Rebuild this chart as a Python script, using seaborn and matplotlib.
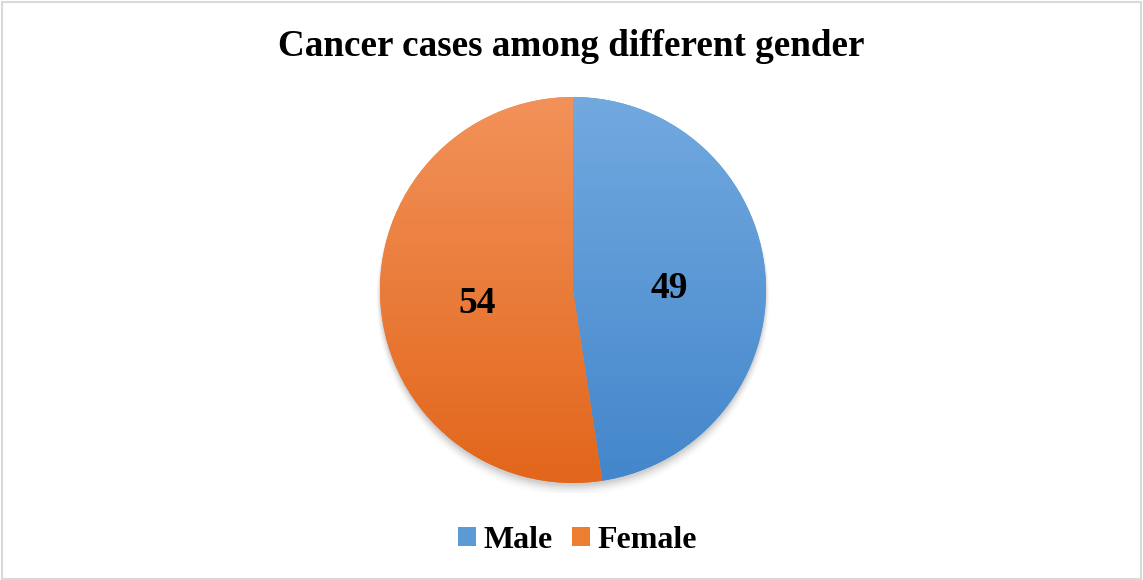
import numpy as np
import matplotlib
matplotlib.use("Agg")
import matplotlib.pyplot as plt
import seaborn as sns
from matplotlib.patches import Circle, Rectangle, Patch
from matplotlib.colors import LinearSegmentedColormap

# Data
genders = ["Male", "Female"]
cases = [49, 54]

# Top/bottom shades used for the vertical gradient of each slice
top_colors = ["#72A9DF", "#F2925A"]
bottom_colors = ["#4386CB", "#E2661B"]
legend_colors = ["#5B9BD5", "#ED7D31"]

sns.set_theme(style="white")
plt.rcParams["font.family"] = ["Liberation Serif", "DejaVu Serif"]
plt.rcParams["text.color"] = "black"

fig = plt.figure(figsize=(11.43, 5.8), dpi=100)
fig.patch.set_facecolor("white")

# Outer chart border
fig.add_artist(Rectangle((0.002, 0.002), 0.996, 0.994, transform=fig.transFigure,
                         fill=False, edgecolor="#D9D9D9", linewidth=1.5))

W, H = 1143, 580
cx, cy, r = 573, 290, 193
ax = fig.add_axes([(cx - r * 1.05) / W, (H - cy - r * 1.05) / H, 2.1 * r / W, 2.1 * r / H])

# Soft shadow beneath the pie
for i, a in enumerate(np.linspace(0.05, 0.012, 6)):
    ax.add_patch(Circle((0.0, -0.015 - 0.006 * i), 1.0 + 0.004 * i,
                        facecolor="black", edgecolor="none", alpha=a, zorder=0))

wedges, texts = ax.pie(
    cases,
    labels=[str(v) for v in cases],
    labeldistance=0.5,
    startangle=90,
    counterclock=False,
    colors=legend_colors,
    wedgeprops=dict(linewidth=0, edgecolor="none"),
    textprops=dict(fontsize=27, fontweight="bold", color="black", ha="center", va="center"),
)

grad = np.linspace(0, 1, 256).reshape(-1, 1)
for w, c0, c1 in zip(wedges, top_colors, bottom_colors):
    w.set_zorder(1)
    cmap = LinearSegmentedColormap.from_list("g", [c0, c1])
    im = ax.imshow(grad, cmap=cmap, extent=[-1, 1, -1, 1], origin="upper",
                   aspect="auto", zorder=2, interpolation="bilinear")
    im.set_clip_path(w)
for t in texts:
    x, y = t.get_position()
    t.set_position((x, y - 0.03))
    t.set_zorder(5)

ax.set_xlim(-1.05, 1.05)
ax.set_ylim(-1.05, 1.05)
ax.set_position([(cx - r * 1.05) / W, (H - cy - r * 1.05) / H, 2.1 * r / W, 2.1 * r / H])
ax.set_aspect("equal")
ax.axis("off")

fig.text(0.5, 1 - 47 / H, "Cancer cases among different gender", ha="center", va="center",
         fontsize=26.7, fontweight="bold", color="black")

handles = [Patch(facecolor=c, edgecolor="none") for c in legend_colors]
leg = fig.legend(handles, genders, loc="center", bbox_to_anchor=(0.5053, 1 - 540 / H),
                 ncol=2, frameon=False, handlelength=0.55, handleheight=0.55,
                 handletextpad=0.25, columnspacing=0.6,
                 prop=dict(size=23, weight="bold"))
for t in leg.get_texts():
    t.set_color("black")

fig.savefig("out.png", dpi=100, facecolor="white")
